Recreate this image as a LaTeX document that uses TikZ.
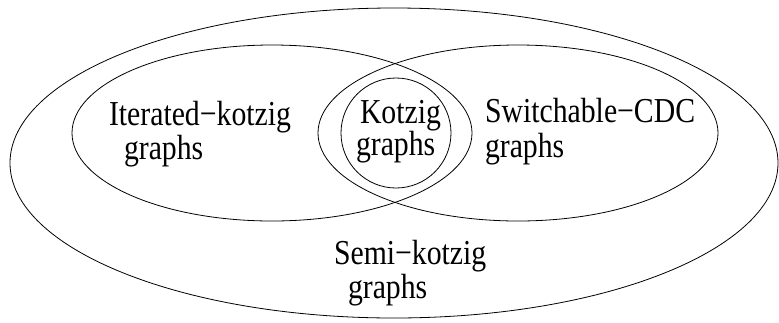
\documentclass[tikz,border=0pt]{standalone}
\usepackage{graphicx}
\usepackage{fontspec}
\setmainfont{Liberation Serif}
\newcommand\venntext[1]{\scalebox{0.85}[1]{#1}}
\tikzset{
  setline/.style={draw=black, line width=0.8pt},
  lbl/.style={anchor=base west, inner sep=0pt, outer sep=0pt,
    font=\fontsize{35}{35}\selectfont},
}
\begin{document}
\begin{tikzpicture}[x=1pt, y=-1pt]
  \useasboundingbox (0,0) rectangle (779,322);
  % sets
  \draw[setline] (394,163) ellipse [x radius=384, y radius=155];
  \draw[setline] (272,133) ellipse [x radius=200, y radius=88];
  \draw[setline] (518,133) ellipse [x radius=200, y radius=88];
  \draw[setline] (396,133) circle [radius=55];
  % labels
  \node[lbl] (it1) at (109,125) {\venntext{Iterated−kotzig}};
  \node[lbl] (it2) at (124,159) {\venntext{graphs}};
  \node[lbl] (ko1) at (360,123) {\venntext{Kotzig}};
  \node[lbl] (ko2) at (356,155) {\venntext{graphs}};
  \node[lbl] (sw1) at (485,122) {\venntext{Switchable−CDC}};
  \node[lbl] (sw2) at (485,157) {\venntext{graphs}};
  \node[lbl] (se1) at (334,264) {\venntext{Semi−kotzig}};
  \node[lbl] (se2) at (348,298) {\venntext{graphs}};
\end{tikzpicture}
\end{document}
